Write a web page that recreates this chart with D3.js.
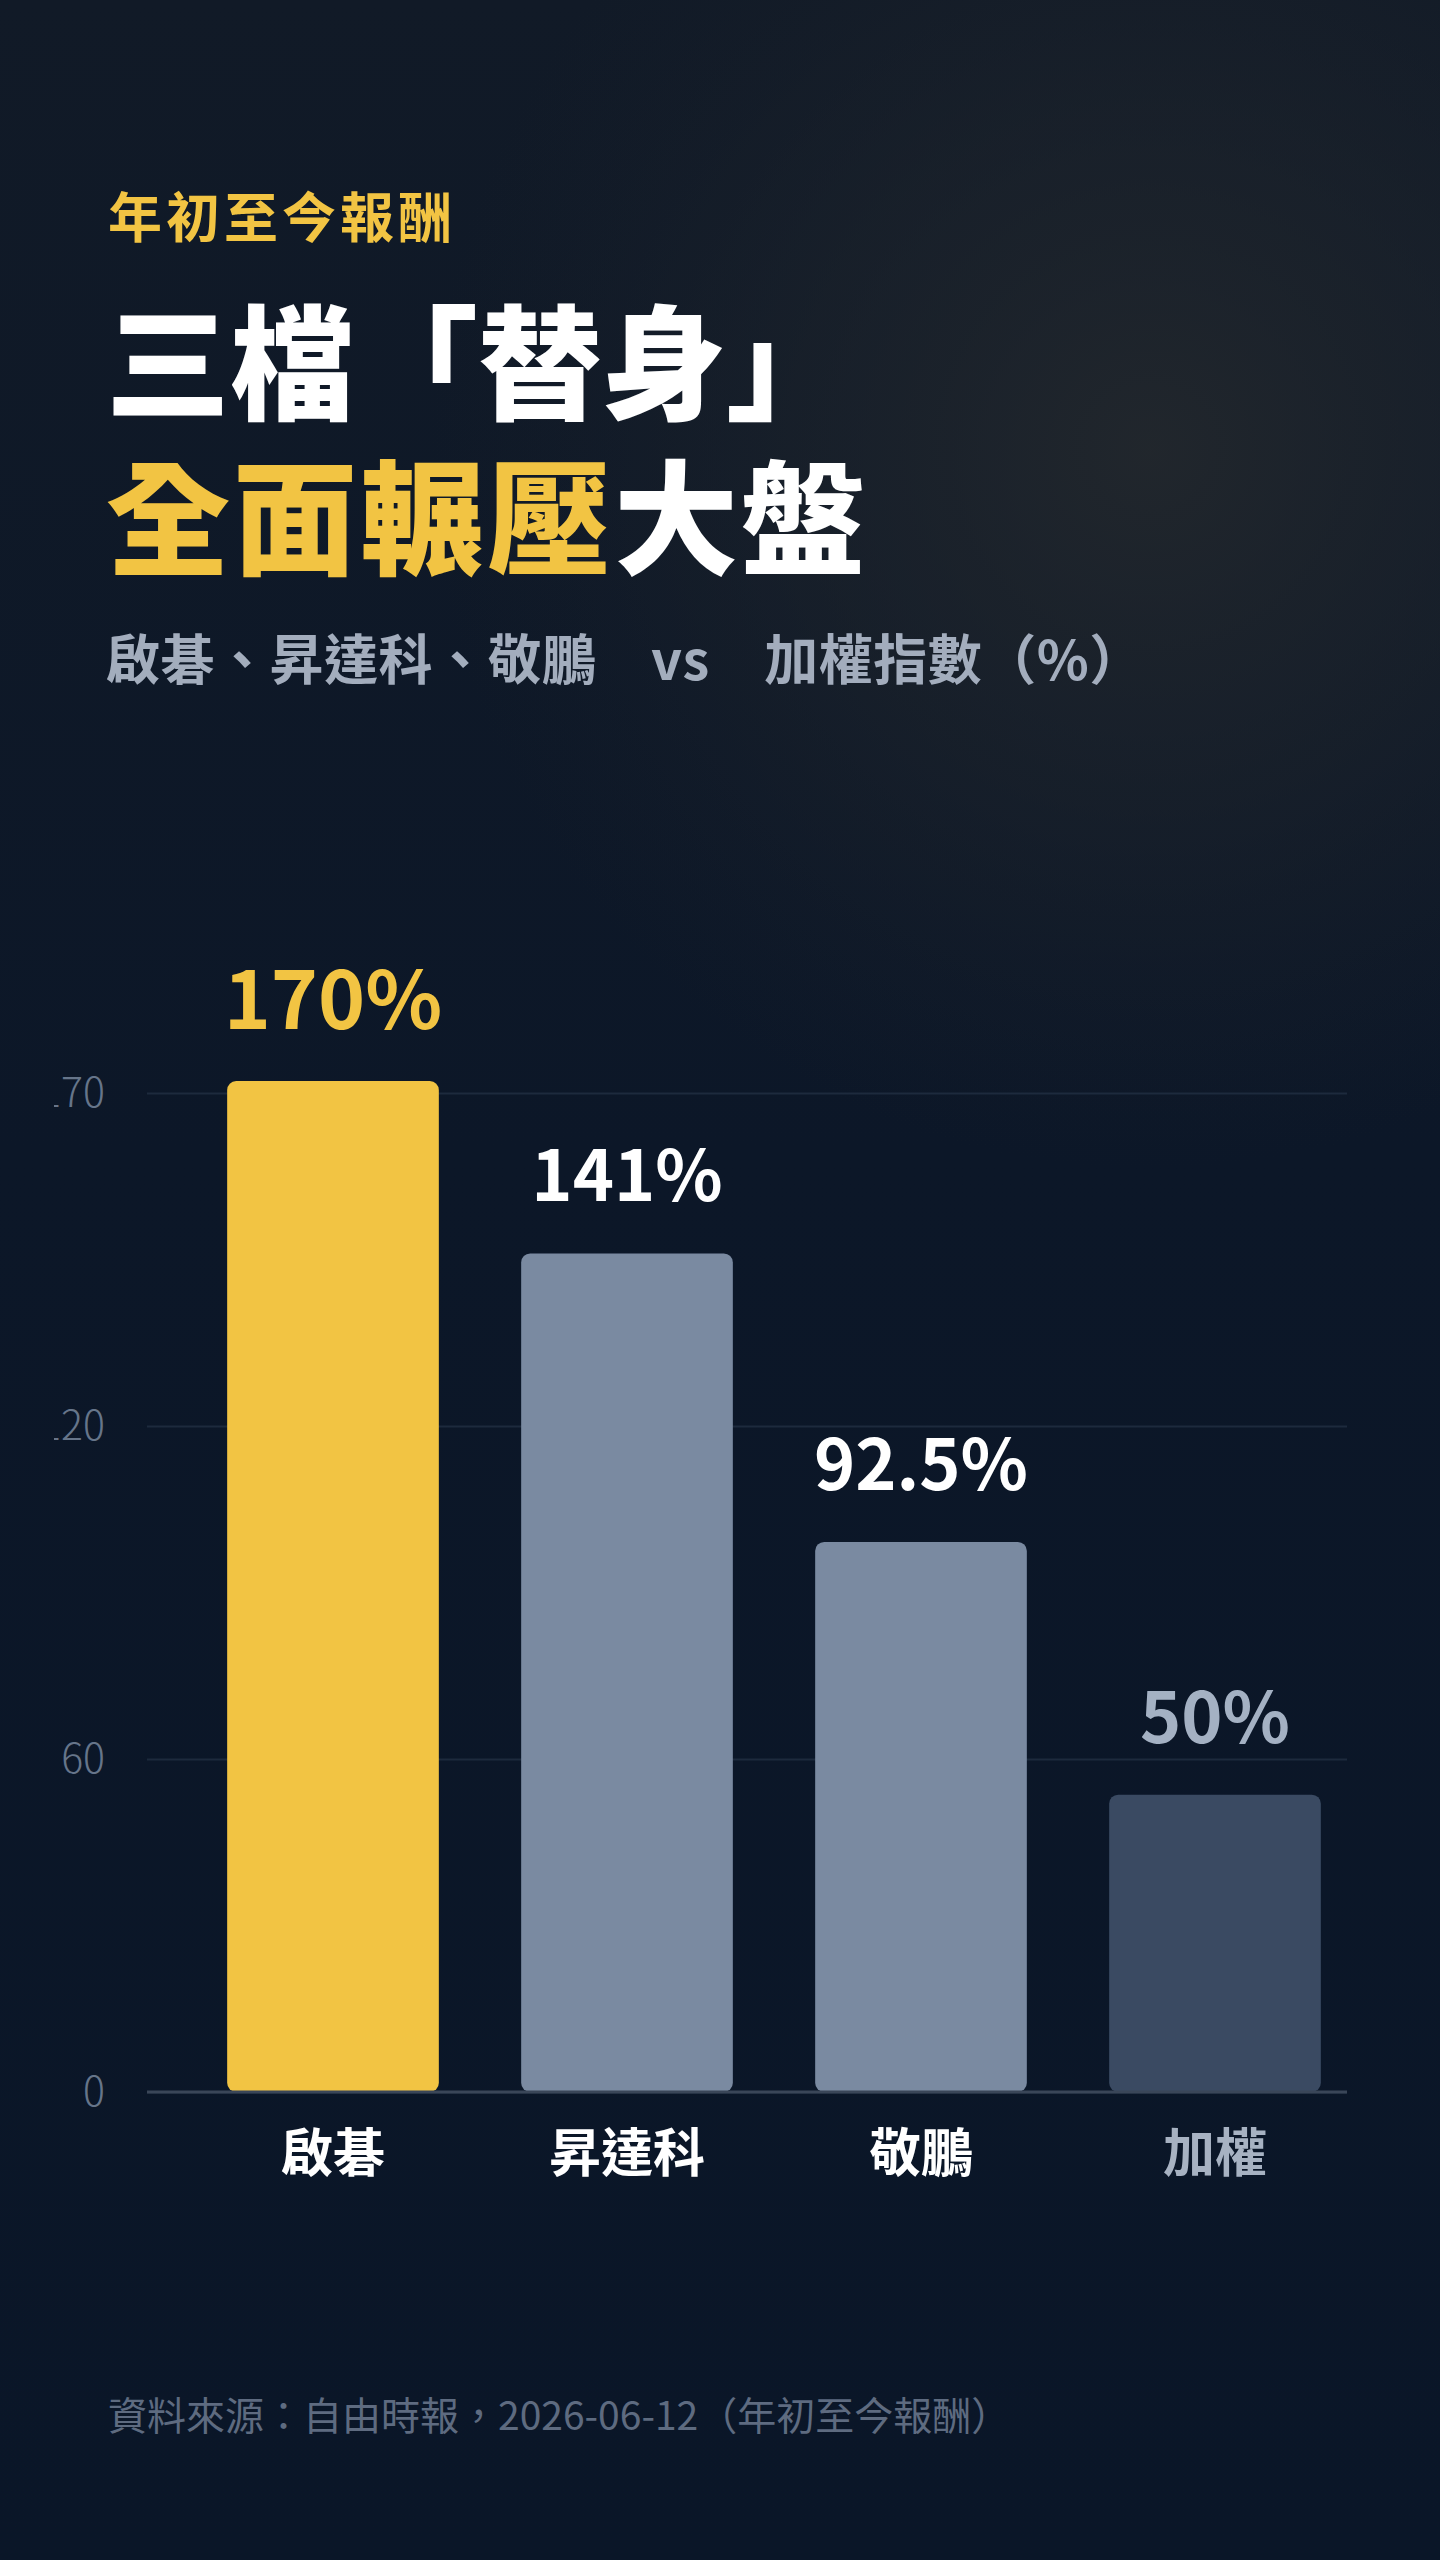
<!DOCTYPE html>
<html lang="zh-Hant">
<head>
    <meta charset="UTF-8">
    <title>年初至今報酬</title>
    <script src="https://d3js.org/d3.v7.min.js"></script>
    <style>
        body {
            margin: 0;
            background: #0a1628;
        }
        svg text {
            font-family: "Noto Sans CJK TC", "Noto Sans", sans-serif;
        }
        .grid line {
            stroke: #1d2a3d;
            stroke-width: 2;
        }
        .grid .domain {
            display: none;
        }
        .grid text {
            font-size: 41px;
            font-weight: 300;
            fill: #66758a;
        }
    </style>
</head>
<body>
    <script>
        // Data
        const categories = ["啟碁", "昇達科", "敬鵬", "加權"];
        const values = [170, 141, 92.5, 50];
        const barColors = ["#f2c443", "#7a8aa1", "#7a8aa1", "#3a4a62"];
        const valueColors = ["#f2c443", "#ffffff", "#ffffff", "#a4b1c3"];
        const labelColors = ["#ffffff", "#ffffff", "#ffffff", "#a7b2c2"];
        const yTickValues = [0, 56, 112, 168];
        const yTickLabels = ["0", "60", "120", "170"];

        const width = 1440;
        const height = 2560;

        const svg = d3.select("body")
            .append("svg")
            .attr("width", width)
            .attr("height", height);

        // Background
        const defs = svg.append("defs");
        const lin = defs.append("linearGradient")
            .attr("id", "bg")
            .attr("x1", 0).attr("y1", 0).attr("x2", 0).attr("y2", 1);
        lin.append("stop").attr("offset", "0").attr("stop-color", "#111a27");
        lin.append("stop").attr("offset", "0.45").attr("stop-color", "#0c1728");
        lin.append("stop").attr("offset", "1").attr("stop-color", "#0a1628");

        const glow = defs.append("radialGradient")
            .attr("id", "glow")
            .attr("gradientUnits", "userSpaceOnUse")
            .attr("cx", 1150).attr("cy", 450).attr("r", 720);
        glow.append("stop").attr("offset", "0").attr("stop-color", "#23282d").attr("stop-opacity", 0.9);
        glow.append("stop").attr("offset", "0.5").attr("stop-color", "#1f252c").attr("stop-opacity", 0.5);
        glow.append("stop").attr("offset", "1").attr("stop-color", "#1a2029").attr("stop-opacity", 0);

        defs.append("clipPath").attr("id", "tickClip")
            .append("rect").attr("x", 54).attr("y", 0).attr("width", width).attr("height", height);

        svg.append("rect").attr("width", width).attr("height", height).attr("fill", "url(#bg)");
        svg.append("rect").attr("width", width).attr("height", height).attr("fill", "url(#glow)");

        // Titles
        svg.append("text")
            .attr("x", 108).attr("y", 238)
            .attr("font-size", 54).attr("font-weight", 700)
            .attr("letter-spacing", 4)
            .attr("fill", "#f2c443")
            .text("年初至今報酬");

        svg.append("text")
            .attr("x", 106).attr("y", 410)
            .attr("font-size", 124).attr("font-weight", 900)
            .attr("fill", "#ffffff")
            .text("三檔「替身」");

        const t2 = svg.append("text")
            .attr("x", 106).attr("y", 565)
            .attr("font-size", 124).attr("font-weight", 900)
            .attr("letter-spacing", 3);
        t2.append("tspan").attr("fill", "#f2c443").text("全面輾壓");
        t2.append("tspan").attr("fill", "#ffffff").text("大盤");

        svg.append("text")
            .attr("x", 106).attr("y", 680)
            .attr("font-size", 54).attr("font-weight", 700)
            .attr("letter-spacing", 0.5)
            .attr("fill", "#a3adbd")
            .text("啟碁、昇達科、敬鵬　vs　加權指數（%）");

        // Scales
        const plotLeft = 147, plotRight = 1347;
        const x = d3.scaleBand()
            .domain(categories)
            .range([186, 1362])
            .paddingInner(0.28)
            .paddingOuter(0.14);

        const y = d3.scaleLinear()
            .domain([0, 170])
            .range([2092, 1081]);

        // Gridlines + y labels (left edge of the labels is cut as in the original)
        svg.append("g")
            .attr("clip-path", "url(#tickClip)")
            .append("g")
            .attr("class", "grid")
            .attr("transform", `translate(${plotLeft},0)`)
            .call(d3.axisLeft(y)
                .tickValues(yTickValues)
                .tickFormat((d, i) => yTickLabels[i])
                .tickSize(-(plotRight - plotLeft))
                .tickPadding(42));

        // Bars
        svg.append("g")
            .selectAll("rect")
            .data(values)
            .join("rect")
            .attr("x", (d, i) => x(categories[i]))
            .attr("y", d => y(d))
            .attr("width", x.bandwidth())
            .attr("height", d => y(0) - y(d))
            .attr("rx", 9)
            .attr("fill", (d, i) => barColors[i]);

        // Baseline
        svg.append("line")
            .attr("x1", plotLeft).attr("x2", plotRight)
            .attr("y1", y(0)).attr("y2", y(0))
            .attr("stroke", "#3a4658")
            .attr("stroke-width", 3);

        // Value labels
        svg.append("g")
            .selectAll("text")
            .data(values)
            .join("text")
            .attr("x", (d, i) => x(categories[i]) + x.bandwidth() / 2)
            .attr("y", d => y(d) - 52)
            .attr("text-anchor", "middle")
            .attr("font-size", (d, i) => i === 0 ? 80 : 70)
            .attr("font-weight", 700)
            .attr("fill", (d, i) => valueColors[i])
            .text(d => `${d}%`);

        // Category labels
        svg.append("g")
            .selectAll("text")
            .data(categories)
            .join("text")
            .attr("x", d => x(d) + x.bandwidth() / 2)
            .attr("y", y(0) + 80)
            .attr("text-anchor", "middle")
            .attr("font-size", 52)
            .attr("font-weight", 700)
            .attr("fill", (d, i) => labelColors[i])
            .text(d => d);

        // Footer
        svg.append("text")
            .attr("x", 108).attr("y", 2430)
            .attr("font-size", 39)
            .attr("fill", "#5e6b80")
            .text("資料來源：自由時報，2026-06-12（年初至今報酬）");
    </script>
</body>
</html>
